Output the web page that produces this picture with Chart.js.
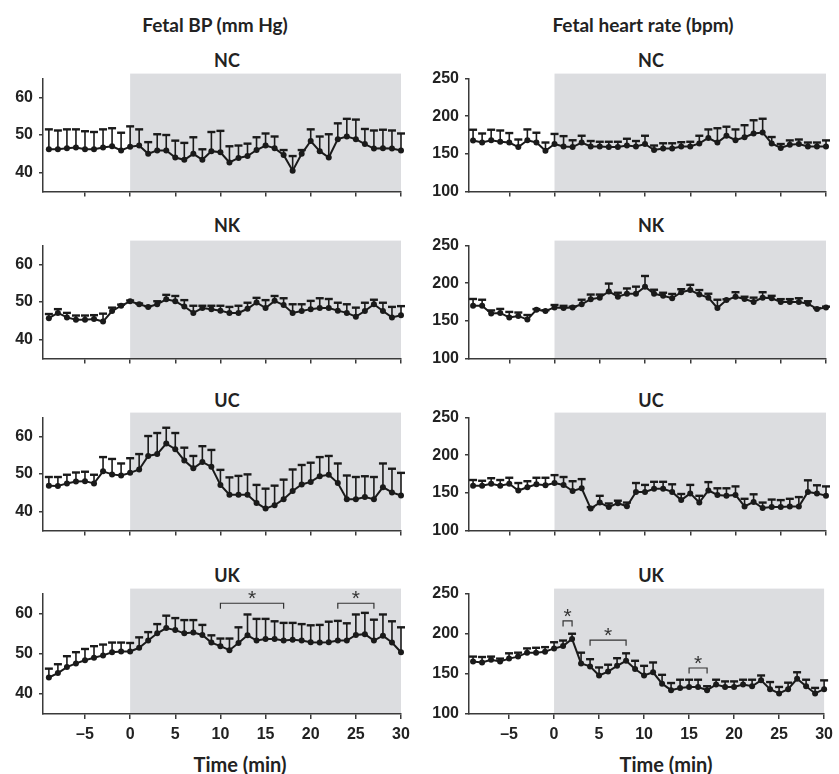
<!DOCTYPE html>
<html>
<head>
<meta charset="utf-8">
<script src="https://cdn.jsdelivr.net/npm/chart.js@4.4.1/dist/chart.umd.min.js"></script>
<style>
  body { margin: 0; width: 839px; height: 774px; position: relative; overflow: hidden; background: #fff; font-family: Lato, "Open Sans", sans-serif; }
  canvas { position: absolute; }
  .lbl { position: absolute; transform: translate(-50%, -50%); white-space: nowrap; font-weight: bold; color: #222; }
</style>
</head>
<body>
<div class="lbl" style="left:215px;top:24px;font-size:19px">Fetal BP (mm Hg)</div>
<div class="lbl" style="left:643px;top:24px;font-size:19px">Fetal heart rate (bpm)</div>
<div id="titles"></div>
<div class="lbl" style="left:240px;top:764px;font-size:20px">Time (min)</div>
<div class="lbl" style="left:666px;top:764px;font-size:20px">Time (min)</div>
<script>
const minutes = [-9, -8, -7, -6, -5, -4, -3, -2, -1, 0, 1, 2, 3, 4, 5, 6, 7, 8, 9, 10,
  11, 12, 13, 14, 15, 16, 17, 18, 19, 20, 21, 22, 23, 24, 25, 26, 27, 28, 29, 30];
const xTickValues = [-5, 0, 5, 10, 15, 20, 25, 30];
const bpTickValues = [40, 50, 60];
const hrTickValues = [100, 150, 200, 250];
const groupNames = ['NC', 'NK', 'UC', 'UK'];

// fetal BP, mean and SEM (mm Hg)
const bpNC = [46.2, 46.2, 46.5, 46.7, 46.2, 46.2, 46.7, 47.0, 45.9, 46.9, 47.2, 45.0, 45.9, 45.9, 44.0, 43.4, 45.0, 43.4, 45.7, 45.4,
  42.7, 43.9, 44.4, 46.0, 47.2, 46.5, 44.7, 40.5, 45.0, 48.4, 45.7, 44.0, 48.9, 49.6, 48.9, 47.6, 46.4, 46.5, 46.4, 45.9];
const bpNCsem = [5.3, 5.0, 5.0, 4.8, 4.8, 4.6, 4.8, 4.8, 4.7, 5.4, 4.3, 3.1, 4.3, 4.1, 4.5, 4.5, 4.4, 2.8, 5.1, 5.7,
  4.3, 3.3, 3.3, 3.4, 3.2, 3.1, 1.3, 3.9, 1.0, 3.1, 3.9, 6.2, 4.2, 4.7, 5.2, 4.0, 4.8, 4.9, 4.8, 4.5];
const bpNK = [45.7, 47.1, 45.9, 45.3, 45.3, 45.5, 44.8, 47.6, 49.0, 50.2, 49.4, 48.7, 49.4, 50.7, 50.2, 48.8, 47.1, 48.4, 48.1, 47.7,
  47.1, 47.1, 48.2, 49.9, 48.4, 50.3, 49.2, 47.1, 47.6, 48.1, 48.4, 48.4, 47.7, 47.1, 46.1, 47.6, 49.4, 47.6, 45.9, 46.5];
const bpNKsem = [1.1, 1.0, 1.2, 1.1, 1.1, 1.0, 2.1, 0.9, 0.3, 0.2, 0.2, 0.2, 0.8, 1.2, 1.4, 1.7, 1.9, 0.6, 0.9, 1.3,
  1.6, 1.9, 1.6, 1.2, 2.1, 1.3, 1.8, 2.3, 1.8, 2.2, 2.6, 2.4, 2.1, 2.3, 2.4, 2.2, 1.2, 2.2, 2.8, 2.4];
const bpUC = [46.9, 46.8, 47.5, 48.0, 48.1, 47.5, 50.7, 49.9, 49.6, 50.3, 51.2, 54.8, 55.3, 58.1, 56.6, 53.6, 51.5, 53.2, 51.9, 47.1,
  44.5, 44.5, 44.5, 42.3, 40.8, 41.7, 43.3, 45.5, 47.2, 47.9, 49.4, 49.8, 47.6, 43.3, 43.3, 43.9, 43.3, 46.5, 45.1, 44.3];
const bpUCsem = [2.3, 2.4, 2.3, 2.4, 2.5, 2.3, 3.8, 4.1, 3.2, 3.9, 4.1, 5.3, 5.6, 4.2, 4.3, 3.4, 3.3, 4.2, 4.5, 4.0,
  4.6, 5.0, 5.4, 4.8, 5.3, 5.2, 5.2, 5.7, 5.2, 5.1, 5.1, 5.0, 5.2, 6.3, 5.9, 5.5, 5.9, 6.3, 6.3, 6.0];
const bpUK = [44.1, 45.2, 46.7, 47.6, 48.4, 49.0, 49.6, 50.4, 50.6, 50.6, 51.5, 53.3, 55.1, 56.4, 55.9, 55.1, 55.3, 54.7, 52.8, 51.9,
  50.9, 52.7, 54.6, 53.3, 53.7, 53.7, 53.3, 53.5, 53.3, 52.9, 52.8, 52.9, 53.3, 53.3, 54.7, 54.9, 53.3, 54.5, 52.8, 50.4];
const bpUKsem = [2.2, 2.2, 2.7, 2.8, 2.8, 2.9, 2.7, 2.4, 2.2, 2.1, 2.6, 2.1, 2.3, 3.1, 3.0, 3.3, 3.1, 2.5, 1.8, 1.9,
  2.9, 3.9, 5.2, 5.4, 5.0, 4.4, 4.4, 4.2, 4.1, 4.2, 4.4, 5.1, 4.9, 4.3, 5.1, 5.3, 5.2, 5.3, 5.3, 6.2];

// fetal heart rate, mean and SEM (bpm)
const hrNC = [167.8, 165.0, 168.0, 166.0, 165.0, 159.0, 168.0, 165.0, 154.0, 163.0, 159.7, 159.0, 165.0, 159.7, 159.7, 159.0, 159.0, 161.0, 159.7, 163.0,
  155.0, 157.0, 157.0, 159.7, 159.7, 163.8, 171.0, 165.0, 174.0, 168.0, 172.0, 177.0, 178.4, 163.8, 157.7, 162.0, 163.0, 159.7, 159.7, 159.7];
const hrNCsem = [14.2, 12.0, 14.0, 15.0, 12.6, 10.0, 14.4, 13.0, 11.0, 13.4, 13.8, 9.0, 9.0, 7.3, 6.3, 7.0, 7.0, 9.0, 7.3, 11.0,
  6.0, 7.0, 7.0, 5.7, 6.3, 10.2, 11.4, 19.0, 12.0, 14.4, 16.0, 17.6, 18.2, 8.5, 5.3, 5.8, 6.0, 5.3, 5.3, 8.1];
const hrNK = [169.9, 170.0, 159.7, 160.5, 154.5, 156.5, 151.6, 164.6, 163.0, 167.8, 167.0, 167.8, 172.0, 178.8, 180.8, 189.0, 182.0, 186.0, 186.0, 195.4,
  186.0, 183.2, 180.0, 188.0, 190.9, 184.9, 180.8, 167.0, 177.6, 182.0, 179.0, 175.0, 180.8, 180.0, 175.0, 175.0, 175.0, 172.7, 165.8, 167.8];
const hrNKsem = [9.1, 8.0, 4.1, 5.3, 7.3, 4.5, 6.1, 1.0, 1.0, 3.2, 2.9, 1.0, 6.0, 6.1, 4.1, 10.5, 5.3, 7.0, 9.4, 14.2,
  5.3, 4.1, 5.7, 4.0, 6.9, 6.0, 5.2, 11.0, 1.0, 6.0, 3.0, 5.8, 7.2, 3.2, 3.8, 3.8, 5.0, 3.3, 1.0, 1.0];
const hrUC = [159.3, 159.3, 162.0, 159.3, 162.0, 153.0, 157.3, 161.3, 160.0, 163.0, 160.5, 152.4, 156.0, 129.0, 137.0, 131.0, 136.2, 132.2, 151.2, 151.2,
  155.3, 155.3, 151.2, 140.3, 149.2, 137.0, 153.2, 147.2, 146.0, 147.2, 131.8, 137.9, 129.8, 131.0, 131.0, 131.8, 131.8, 151.2, 149.2, 146.0];
const hrUCsem = [7.7, 6.7, 7.4, 7.7, 8.0, 10.0, 8.1, 8.7, 10.0, 10.5, 10.5, 13.0, 12.2, 2.0, 9.0, 4.8, 3.3, 4.8, 11.8, 9.3,
  9.3, 9.3, 10.1, 8.1, 11.3, 9.0, 11.0, 8.8, 10.0, 11.3, 10.2, 10.1, 7.2, 10.0, 9.3, 10.2, 12.5, 15.4, 10.8, 12.5];
const hrUK = [165.4, 164.2, 167.5, 165.4, 169.0, 171.5, 176.4, 176.4, 177.6, 181.7, 184.6, 193.5, 163.0, 159.3, 148.0, 152.8, 160.0, 166.3, 156.0, 148.0,
  152.0, 137.8, 129.7, 132.5, 133.7, 133.7, 129.7, 136.6, 133.7, 133.7, 136.6, 134.6, 141.9, 130.9, 125.6, 130.9, 143.9, 134.6, 125.6, 130.9];
const hrUKsem = [6.1, 6.8, 4.0, 3.6, 6.6, 4.9, 5.3, 6.1, 5.7, 7.7, 6.9, 6.5, 13.4, 9.0, 10.0, 8.6, 9.5, 9.3, 10.3, 12.0,
  12.2, 11.0, 8.9, 10.2, 9.0, 9.0, 4.9, 6.1, 6.9, 6.9, 6.1, 8.1, 6.1, 8.9, 8.1, 8.1, 8.1, 8.1, 6.9, 11.0];

// significance brackets (start min, end min, level)
const bpUKsigFrom = [10, 23];
const bpUKsigTo = [17, 27];
const bpUKsigLevel = [62.6, 62.6];
const hrUKsigFrom = [1, 4, 15];
const hrUKsigTo = [2, 8, 17];
const hrUKsigLevel = [215.9, 192.0, 157.3];

const rowTop = [75, 242, 414, 590];
const plotH = 124;
const inkColor = '#1a1a1a';
const axisColor = '#3a3a3a';
const textColor = '#222';
const shadeColor = '#dcdde0';
const tickFont = { family: '"Liberation Sans", Arial, sans-serif', size: 16, weight: 'bold' };

function makePanel(col, row, mean, sem, sigFrom, sigTo, sigLevel) {
  const isBP = col === 0;
  const xh = row === 3 ? 34 : 8;
  const canvas = document.createElement('canvas');
  canvas.width = isBP ? 420 : 419;
  canvas.height = 12 + plotH + xh;
  canvas.style.left = (isBP ? 0 : 420) + 'px';
  canvas.style.top = (rowTop[row] - 12) + 'px';
  document.body.appendChild(canvas);

  const shade = {
    id: 'shade',
    beforeDraw(chart) {
      const { ctx, chartArea, scales: { x } } = chart;
      const x0 = x.getPixelForValue(0), x1 = x.getPixelForValue(30);
      ctx.save();
      ctx.fillStyle = shadeColor;
      ctx.fillRect(x0, chartArea.top - 5, x1 - x0, chartArea.bottom - chartArea.top + 5);
      ctx.restore();
    }
  };

  const errorBars = {
    id: 'errorBars',
    beforeDatasetsDraw(chart) {
      const { ctx, scales: { x, y } } = chart;
      ctx.save();
      ctx.strokeStyle = inkColor;
      mean.forEach((m, i) => {
        const px = x.getPixelForValue(minutes[i]);
        const py0 = y.getPixelForValue(m);
        const py1 = y.getPixelForValue(m + sem[i]);
        ctx.lineWidth = 1.6;
        ctx.beginPath();
        ctx.moveTo(px, py0);
        ctx.lineTo(px, py1);
        ctx.stroke();
        ctx.lineWidth = 2.4;
        ctx.beginPath();
        ctx.moveTo(px - 4, py1);
        ctx.lineTo(px + 4, py1);
        ctx.stroke();
      });
      ctx.restore();
    }
  };

  const brackets = {
    id: 'brackets',
    afterDatasetsDraw(chart) {
      if (!sigFrom) return;
      const { ctx, scales: { x, y } } = chart;
      ctx.save();
      ctx.strokeStyle = '#333';
      ctx.fillStyle = '#333';
      ctx.lineWidth = 1.2;
      ctx.font = '21px "Liberation Sans", Arial, sans-serif';
      ctx.textAlign = 'center';
      ctx.textBaseline = 'alphabetic';
      sigFrom.forEach((from, i) => {
        const xa = x.getPixelForValue(from), xb = x.getPixelForValue(sigTo[i]);
        const yl = y.getPixelForValue(sigLevel[i]);
        ctx.beginPath();
        ctx.moveTo(xa, yl + 5.5);
        ctx.lineTo(xa, yl);
        ctx.lineTo(xb, yl);
        ctx.lineTo(xb, yl + 5.5);
        ctx.stroke();
        ctx.fillText('*', (xa + xb) / 2, yl + 2);
      });
      ctx.restore();
    }
  };

  new Chart(canvas.getContext('2d'), {
    type: 'line',
    data: {
      datasets: [{
        data: mean.map((m, i) => ({ x: minutes[i], y: m })),
        borderColor: inkColor,
        borderWidth: 2,
        pointRadius: 3,
        pointBackgroundColor: inkColor,
        pointBorderColor: inkColor,
        pointBorderWidth: 0,
        tension: 0,
        clip: false
      }]
    },
    options: {
      responsive: false,
      animation: false,
      events: [],
      layout: { padding: { top: 12, left: 0, right: isBP ? 19 : 13, bottom: 0 } },
      plugins: { legend: { display: false }, tooltip: { enabled: false } },
      scales: {
        x: {
          type: 'linear',
          min: isBP ? -9.65 : -9.45,
          max: 30,
          afterBuildTicks: s => { s.ticks = xTickValues.map(v => ({ value: v })); },
          afterFit: s => { s.height = xh; },
          grid: { drawOnChartArea: false, tickLength: 5, color: axisColor, lineWidth: 1.5 },
          border: { color: axisColor, width: 1.5 },
          ticks: {
            display: row === 3,
            autoSkip: false,
            maxRotation: 0,
            padding: 6,
            font: tickFont,
            color: textColor,
            callback: v => v < 0 ? '\u2013' + Math.abs(v) : String(v)
          }
        },
        y: {
          min: isBP ? 35 : 100,
          max: isBP ? 65 : 250,
          afterBuildTicks: s => { s.ticks = (isBP ? bpTickValues : hrTickValues).map(v => ({ value: v })); },
          afterFit: s => { s.width = isBP ? 43 : 49; },
          grid: { drawOnChartArea: false, tickLength: 4, color: axisColor, lineWidth: 1.5 },
          border: { color: axisColor, width: 1.5 },
          ticks: { autoSkip: false, padding: 6, font: tickFont, color: textColor }
        }
      }
    },
    plugins: [shade, errorBars, brackets]
  });
}

const titleY = [60, 225, 400, 575];
const titles = document.getElementById('titles');
groupNames.forEach((name, row) => {
  [227, 651].forEach(cx => {
    const d = document.createElement('div');
    d.className = 'lbl';
    d.style.left = cx + 'px';
    d.style.top = titleY[row] + 'px';
    d.style.fontSize = '18px';
    d.textContent = name;
    titles.appendChild(d);
  });
});

makePanel(0, 0, bpNC, bpNCsem);
makePanel(0, 1, bpNK, bpNKsem);
makePanel(0, 2, bpUC, bpUCsem);
makePanel(0, 3, bpUK, bpUKsem, bpUKsigFrom, bpUKsigTo, bpUKsigLevel);
makePanel(1, 0, hrNC, hrNCsem);
makePanel(1, 1, hrNK, hrNKsem);
makePanel(1, 2, hrUC, hrUCsem);
makePanel(1, 3, hrUK, hrUKsem, hrUKsigFrom, hrUKsigTo, hrUKsigLevel);
</script>
</body>
</html>
